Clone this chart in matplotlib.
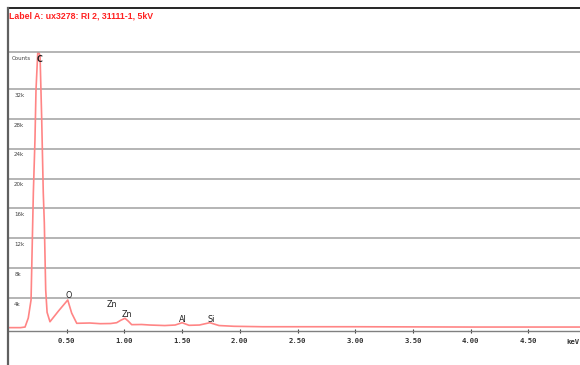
import matplotlib
matplotlib.use("Agg")
import matplotlib.pyplot as plt
from matplotlib.lines import Line2D

# spectrum (keV, counts)
energy = [0.00, 0.10, 0.139, 0.167, 0.191, 0.211, 0.225, 0.234, 0.249, 0.256,
          0.269, 0.283, 0.297, 0.306, 0.318, 0.330, 0.355, 0.430, 0.509, 0.543,
          0.587, 0.70, 0.79, 0.88, 0.933, 0.97, 1.005, 1.035, 1.063, 1.15,
          1.22, 1.35, 1.44, 1.50, 1.56, 1.65, 1.74, 1.82, 1.95, 2.20, 3.00,
          4.00, 4.95]
counts = [50, 50, 130, 1340, 3750, 18100, 25200, 31900, 36800, 36900,
          36500, 28200, 18100, 14100, 5100, 2100, 840, 2300, 3750, 2000,
          630, 670, 580, 600, 710, 1050, 1300, 900, 450, 470,
          400, 330, 400, 710, 360, 400, 710, 330, 230, 170, 170,
          130, 130]

# element labels (keV, label height in counts)
elements = ["C", "O", "Zn", "Zn", "Al", "Si"]
elem_energy = [0.269, 0.513, 0.89, 1.02, 1.502, 1.748]
elem_height = [36000, 4400, 3210, 1870, 1160, 1160]

x_ticks = [0.5, 1.0, 1.5, 2.0, 2.5, 3.0, 3.5, 4.0, 4.5]
y_ticks = [4000, 8000, 12000, 16000, 20000, 24000, 28000, 32000]

W, H = 580, 365
fig = plt.figure(figsize=(W / 100, H / 100), dpi=100)
ax = fig.add_axes([9 / W, 1 - 331 / H, 571 / W, 279 / H])

ax.plot(energy, counts, color="#ff8585", linewidth=1.2)

ax.set_xlim(0, 571 / 115.4)
ax.set_ylim(-400, 36950)

# horizontal grid
for v in y_ticks:
    ax.axhline(v, color="#a0a0a0", linewidth=1.1, zorder=0)
    ax.text(0.009, v - 500, f"{v // 1000}k", transform=ax.get_yaxis_transform(),
            fontsize=4, color="#404040", va="top", ha="left")
ax.text(0.005, 36950 - 500, "Counts", transform=ax.get_yaxis_transform(),
        fontsize=4, color="#404040", va="top", ha="left")
ax.set_yticks([])

for s in ["left", "right"]:
    ax.spines[s].set_visible(False)
ax.spines["top"].set_color("#a0a0a0")
ax.spines["top"].set_linewidth(1.1)
ax.spines["bottom"].set_color("#808080")
ax.spines["bottom"].set_linewidth(1.0)

ax.set_xticks(x_ticks)
ax.set_xticklabels([f"{t:.2f}" for t in x_ticks], family="DejaVu Sans Mono",
                   fontweight="bold", fontsize=5.2, color="#303030")
ax.tick_params(axis="x", direction="inout", length=3, width=0.8,
               color="#404040", pad=3.5)
ax.text(4.83, -0.028, "keV", transform=ax.get_xaxis_transform(),
        family="DejaVu Sans Mono", fontweight="bold", fontsize=5.2,
        color="#303030", ha="left", va="top")

for name, e, h in zip(elements, elem_energy, elem_height):
    ax.text(e, h, name, fontsize=5.8, color="#202020", ha="center",
            va="center", fontweight="bold" if name == "C" else "normal")

# header and frame
fig.text(9 / W, 1 - 16 / H, "Label A: ux3278: RI 2, 31111-1, 5kV",
         color="#ff2020", fontweight="bold", fontsize=6.3,
         family="Liberation Sans", ha="left", va="center")
fig.add_artist(Line2D([8 / W, 1], [1 - 8 / H, 1 - 8 / H], color="black",
                      linewidth=1.2, transform=fig.transFigure))
fig.add_artist(Line2D([8 / W, 8 / W], [0, 1 - 8 / H], color="#606060",
                      linewidth=1.6, transform=fig.transFigure))

fig.savefig("out.png", dpi=100, facecolor="white")
